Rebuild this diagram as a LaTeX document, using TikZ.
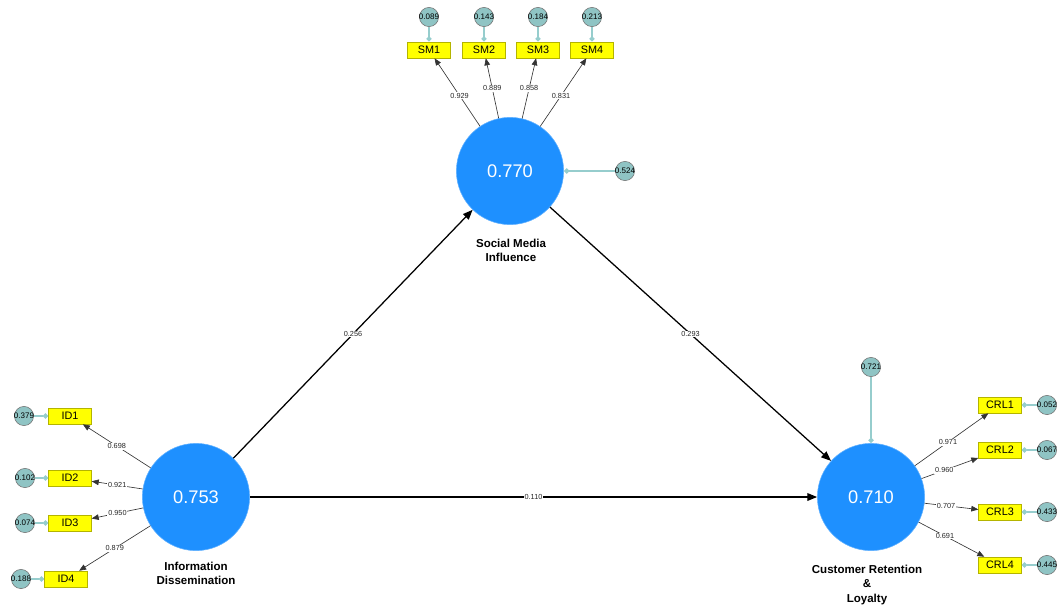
\documentclass[tikz,border=0pt]{standalone}
\usepackage{fontspec}
\setmainfont{Liberation Sans}
\usetikzlibrary{arrows.meta}
\definecolor{latent}{HTML}{1E90FF}
\definecolor{itembox}{HTML}{FFFF00}
\definecolor{itemedge}{HTML}{B4B400}
\definecolor{errfill}{RGB}{143,196,196}
\definecolor{errline}{RGB}{150,205,205}
\begin{document}
\begin{tikzpicture}[x=0.025cm,y=-0.025cm,
  latentnode/.style={circle, fill=latent, draw=latent!70!white, line width=0.4pt,
    minimum size=2.68cm, inner sep=0, text=white, font=\fontsize{13}{15}\selectfont},
  item/.style={rectangle, fill=itembox, draw=itemedge, line width=0.4pt,
    minimum width=1.07cm, minimum height=0.4cm, inner sep=0, font=\fontsize{7.7}{9}\selectfont},
  err/.style={circle, fill=errfill, draw=black!55, line width=0.4pt,
    minimum size=0.48cm, inner sep=0, font=\fontsize{5.7}{6}\selectfont},
  errlink/.style={draw=errline, line width=0.8pt, -{Diamond[length=4pt,width=4pt,fill=errline]}},
  load/.style={draw=black!80, line width=0.45pt, -{Triangle[length=5pt,width=4pt]}},
  inner link/.style={draw=black, line width=0.9pt, -{Triangle[length=7pt,width=5.5pt]}},
  lbl/.style={fill=white, inner sep=0.6pt, font=\fontsize{5.2}{6}\selectfont, text=black!85},
  cname/.style={font=\bfseries\fontsize{8.2}{10}\selectfont, align=center, inner sep=0}
]
\useasboundingbox (0,0) rectangle (1057,606);
\clip (0,0) rectangle (1057,606);

% latent constructs
\node[latentnode] (SMI) at (510,171) {0.770};
\node[latentnode] (ID)  at (196,497) {0.753};
\node[latentnode] (CRL) at (871,497) {0.710};

\node[cname] (SMIname) at (511,250) {Social Media\\Influence};
\node[cname] (IDname)  at (196,573) {Information\\Dissemination};
\node[cname] (CRLname) at (867,585) {Customer Retention\\\&\\Loyalty};

% indicators of Social Media Influence
\node[item] (SM1) at (429,50) {SM1};
\node[item] (SM2) at (484,50) {SM2};
\node[item] (SM3) at (538,50) {SM3};
\node[item] (SM4) at (592,50) {SM4};
\node[err] (eSM1) at (429,17) {\makebox[0pt]{0.089}};
\node[err] (eSM2) at (484,17) {\makebox[0pt]{0.143}};
\node[err] (eSM3) at (538,17) {\makebox[0pt]{0.184}};
\node[err] (eSM4) at (592,17) {\makebox[0pt]{0.213}};

% indicators of Information Dissemination
\node[item] (ID1) at (70,416) {ID1};
\node[item] (ID2) at (70,478) {ID2};
\node[item] (ID3) at (70,523) {ID3};
\node[item] (ID4) at (66,579) {ID4};
\node[err] (eID1) at (24,416) {\makebox[0pt]{0.379}};
\node[err] (eID2) at (25,478) {\makebox[0pt]{0.102}};
\node[err] (eID3) at (25,523) {\makebox[0pt]{0.074}};
\node[err] (eID4) at (21,579) {\makebox[0pt]{0.188}};

% indicators of Customer Retention & Loyalty
\node[item] (CRL1) at (1000,405) {CRL1};
\node[item] (CRL2) at (1000,450) {CRL2};
\node[item] (CRL3) at (1000,512) {CRL3};
\node[item] (CRL4) at (1000,565) {CRL4};
\node[err] (eCRL1) at (1047,405) {\makebox[0pt]{0.052}};
\node[err] (eCRL2) at (1047,450) {\makebox[0pt]{0.067}};
\node[err] (eCRL3) at (1047,512) {\makebox[0pt]{0.433}};
\node[err] (eCRL4) at (1047,565) {\makebox[0pt]{0.445}};

% residuals of the endogenous constructs
\node[err] (eSMI) at (625,171) {\makebox[0pt]{0.524}};
\node[err] (eCRL) at (871,367) {\makebox[0pt]{0.721}};

% error terms
\foreach \e/\t in {eSM1/SM1,eSM2/SM2,eSM3/SM3,eSM4/SM4,
                   eID1/ID1,eID2/ID2,eID3/ID3,eID4/ID4,
                   eCRL1/CRL1,eCRL2/CRL2,eCRL3/CRL3,eCRL4/CRL4,
                   eSMI/SMI,eCRL/CRL}
  \draw[errlink] (\e) -- (\t);

% outer loadings
\draw[load] (SMI) -- (SM1) node[lbl, pos=0.45] {0.929};
\draw[load] (SMI) -- (SM2) node[lbl, pos=0.5] {0.889};
\draw[load] (SMI) -- (SM3) node[lbl, pos=0.5] {0.858};
\draw[load] (SMI) -- (SM4) node[lbl, pos=0.45] {0.831};

\draw[load] (ID) -- (ID1) node[lbl, pos=0.5] {0.698};
\draw[load] (ID) -- (ID2) node[lbl, pos=0.5] {0.921};
\draw[load] (ID) -- (ID3) node[lbl, pos=0.5] {0.950};
\draw[load] (ID) -- (ID4) node[lbl, pos=0.5] {0.879};

\draw[load] (CRL) -- (CRL1) node[lbl, pos=0.45] {0.971};
\draw[load] (CRL) -- (CRL2) node[lbl, pos=0.4] {0.960};
\draw[load] (CRL) -- (CRL3) node[lbl, pos=0.4] {0.707};
\draw[load] (CRL) -- (CRL4) node[lbl, pos=0.4] {0.691};

% structural paths
\draw[inner link] (ID) -- (SMI) node[lbl, pos=0.5] {0.256};
\draw[inner link] (SMI) -- (CRL) node[lbl, pos=0.5] {0.293};
\draw[inner link] (ID) -- (CRL) node[lbl, pos=0.5] {0.110};
\end{tikzpicture}
\end{document}
